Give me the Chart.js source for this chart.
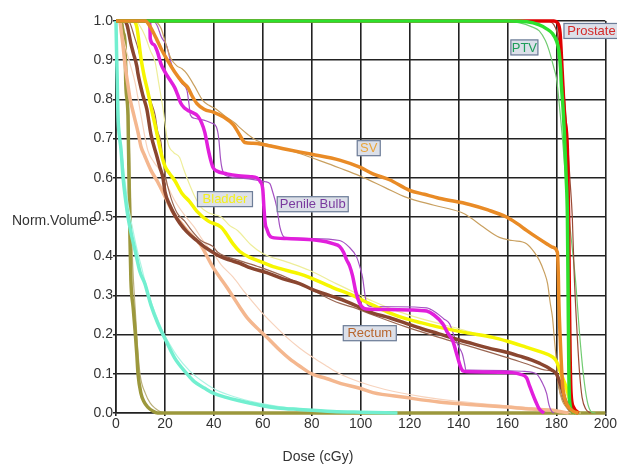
<!DOCTYPE html>
<html><head><meta charset="utf-8">
<script src="https://cdn.jsdelivr.net/npm/chart.js@4.4.1/dist/chart.umd.min.js"></script>
<style>html,body{margin:0;padding:0;background:#fff;}#wrap{position:relative;width:617px;height:469px;}</style>
</head><body><div id="wrap"><canvas id="c" width="617" height="469"></canvas></div>
<script>
// ---- data: [dose (cGy), normalized volume] ----
const xTickLabels = ['0','20','40','60','80','100','120','140','160','180','200'];
const yTickLabels = ['0.0','0.1','0.2','0.3','0.4','0.5','0.6','0.7','0.8','0.9','1.0'];

const prostateA = [[0,1],[179,1],[180.5,0.995],[181.5,0.97],[182.3,0.88],[183.3,0.76],[184.5,0.67],[185,0.5],[185.3,0.3],[185.6,0.15],[186,0.05],[187,0.015],[189,0]];
const prostateB = [[0,1],[176,1],[179,0.99],[181,0.95],[182.5,0.86],[184,0.75],[185.5,0.6],[186.5,0.5],[187.3,0.35],[188.5,0.2],[189.5,0.1],[190.5,0.04],[192,0.01],[194,0]];
const ptvA = [[0,1],[160,1],[168,0.998],[173,0.99],[176,0.98],[178.4,0.968],[180,0.95],[181,0.925],[181.7,0.88],[182,0.84],[182.7,0.78],[183.3,0.71],[184,0.6],[184.5,0.5],[184.8,0.3],[185.1,0.1],[185.4,0.03],[186.5,0.005],[188,0]];
const ptvB = [[0,1],[155,1],[165,0.995],[170,0.985],[173,0.975],[175.5,0.95],[177,0.925],[179,0.88],[180,0.855],[181,0.8],[182.5,0.7],[184,0.58],[185.3,0.49],[186.5,0.42],[187.8,0.34],[189.5,0.2],[191,0.1],[192.6,0.03],[194,0.005],[196,0]];
const svA = [[0,1],[12,1],[14,0.985],[16.5,0.955],[18.4,0.93],[21,0.9],[24,0.87],[27,0.845],[29.4,0.83],[31,0.81],[33,0.79],[36,0.775],[40,0.767],[44,0.755],[48,0.735],[50.5,0.71],[52.7,0.69],[56,0.688],[60,0.685],[70,0.672],[80,0.66],[91.4,0.645],[99.6,0.627],[105,0.61],[111.8,0.595],[120,0.568],[126,0.558],[132,0.548],[144.5,0.532],[152,0.518],[159.6,0.5],[164,0.483],[167.8,0.466],[172,0.448],[176,0.432],[178.4,0.423],[180.4,0.41],[180.8,0.35],[181,0.287],[181.5,0.2],[182.5,0.075],[183.5,0.035],[185,0.015],[187,0.004],[189,0]];
const svB = [[0,1],[15,1],[17,0.995],[18.5,0.98],[20,0.95],[22.4,0.905],[25,0.885],[27,0.878],[29,0.865],[32,0.835],[35.5,0.797],[38,0.785],[41,0.775],[45,0.755],[48.6,0.74],[50.6,0.728],[54,0.71],[57.5,0.695],[65,0.68],[75,0.662],[85,0.64],[91.4,0.625],[99.6,0.605],[110,0.575],[118.7,0.55],[130,0.53],[141,0.512],[144.5,0.5],[150,0.475],[156.7,0.448],[162,0.44],[167.8,0.432],[171,0.41],[173,0.39],[175,0.36],[176.4,0.33],[177.5,0.28],[178.4,0.244],[179.3,0.18],[180,0.134],[181,0.066],[182.5,0.03],[184,0.015],[186,0.003],[187.5,0]];
const bladderA = [[0,1],[7,1],[8.5,0.985],[10.2,0.905],[11.5,0.86],[13,0.82],[14.5,0.775],[16,0.734],[18.4,0.664],[20,0.63],[22,0.61],[24,0.593],[27,0.56],[30,0.54],[33,0.515],[37.6,0.49],[43,0.474],[45,0.458],[48,0.43],[50.6,0.412],[54.7,0.397],[58.8,0.387],[65,0.372],[75,0.355],[79,0.346],[88.6,0.32],[96.7,0.3],[100,0.29],[105,0.275],[112,0.255],[118.8,0.24],[125,0.23],[132,0.219],[143,0.205],[154,0.193],[160,0.183],[167.6,0.168],[173,0.157],[178.4,0.143],[180,0.132],[181,0.117],[182.5,0.09],[184,0.066],[185.5,0.035],[186.7,0.015],[188,0.004],[189,0]];
const bladderB = [[0,1],[8,1],[10,0.985],[11.8,0.963],[14,0.925],[16,0.895],[17.5,0.84],[19.2,0.777],[21.2,0.69],[23.5,0.665],[26,0.652],[27.5,0.625],[29.4,0.593],[32,0.555],[34.7,0.525],[38,0.51],[43,0.5],[46.5,0.478],[49.8,0.465],[55,0.43],[60,0.407],[70,0.385],[79,0.364],[90,0.33],[98.4,0.305],[105,0.285],[115,0.26],[125,0.24],[140,0.215],[155,0.19],[165,0.172],[172,0.16],[178,0.145],[180,0.13],[181.5,0.1],[183,0.07],[184.5,0.04],[186,0.015],[188,0.003],[190,0]];
const penileA = [[0,1],[13.5,1],[13.9,0.98],[14,0.955],[15.5,0.94],[17,0.92],[18.4,0.89],[20.4,0.866],[22,0.85],[24,0.83],[25.3,0.81],[26.5,0.79],[28,0.778],[29.4,0.772],[31,0.767],[33.5,0.757],[35,0.74],[36.3,0.716],[37.6,0.675],[38.7,0.645],[39.6,0.627],[41,0.618],[45.3,0.61],[50,0.605],[55,0.603],[57.5,0.6],[59,0.59],[60,0.57],[60.5,0.52],[61,0.483],[61.6,0.47],[62.5,0.455],[63.7,0.448],[69.8,0.445],[80.4,0.442],[86,0.437],[88.6,0.432],[91.4,0.425],[93,0.41],[94.3,0.39],[95.5,0.375],[96.7,0.35],[98,0.31],[99.6,0.28],[101,0.268],[102.4,0.265],[110,0.264],[120,0.263],[127,0.26],[130,0.25],[133.5,0.228],[135.5,0.205],[137.6,0.185],[139.5,0.145],[141,0.115],[142,0.107],[145,0.105],[162,0.103],[165,0.099],[167.8,0.09],[169,0.07],[170.2,0.05],[171.5,0.03],[173,0.01],[175,0]];
const penileB = [[0,1],[15,1],[16.7,0.99],[18.5,0.96],[20.8,0.935],[22,0.905],[22.9,0.885],[25,0.86],[27,0.84],[29,0.823],[29.8,0.79],[30.4,0.76],[32,0.752],[37,0.745],[39,0.74],[41,0.73],[42,0.7],[42.7,0.65],[43.3,0.625],[44.5,0.607],[50,0.6],[58.8,0.593],[61,0.59],[62.9,0.585],[64,0.565],[65.7,0.525],[67,0.474],[68,0.455],[69,0.448],[80,0.445],[91.4,0.44],[95,0.425],[98.4,0.397],[99.8,0.37],[100.8,0.345],[101.8,0.3],[102.4,0.28],[104,0.272],[115,0.271],[127,0.268],[131,0.255],[134,0.24],[136.3,0.228],[138,0.2],[140,0.17],[141.6,0.15],[142.5,0.125],[143,0.11],[150,0.109],[159.6,0.108],[167,0.106],[171.8,0.1],[174,0.08],[176,0.05],[177,0.02],[178,0.005],[179,0]];
const rectumA = [[0,1],[3.5,1],[4.5,0.99],[6,0.945],[7,0.92],[8.5,0.885],[9,0.865],[11,0.81],[12.6,0.775],[14.3,0.71],[16.7,0.655],[18,0.625],[19.2,0.6],[20,0.565],[22,0.53],[24,0.505],[26,0.485],[29,0.462],[33,0.44],[36.3,0.423],[39.6,0.41],[43,0.398],[46.5,0.39],[50.6,0.382],[55,0.37],[61.6,0.358],[68,0.343],[75,0.33],[80.4,0.315],[88.6,0.297],[94,0.285],[98.4,0.273],[100,0.268],[105,0.255],[111.8,0.243],[118.8,0.228],[125,0.215],[132,0.202],[138,0.19],[145.7,0.177],[152,0.166],[159.6,0.155],[165,0.145],[170,0.135],[173,0.127],[176,0.118],[178,0.11],[180,0.1],[181,0.085],[182.4,0.058],[183.5,0.035],[185,0.015],[187,0.004],[189,0]];
const rectumB = [[0,1],[5,1],[5.7,0.995],[7.5,0.96],[9,0.93],[10.5,0.89],[11.8,0.853],[14,0.8],[16,0.76],[17,0.72],[18.4,0.69],[19,0.655],[20,0.61],[22.4,0.55],[25,0.51],[28,0.49],[31,0.465],[34.7,0.44],[39.6,0.425],[41.6,0.41],[50,0.39],[58.8,0.372],[70,0.345],[80.4,0.313],[90,0.283],[96.7,0.27],[105,0.25],[118.8,0.219],[132,0.193],[145.7,0.168],[159.6,0.142],[168,0.125],[176,0.109],[180,0.1],[181,0.066],[182.5,0.035],[185,0.007],[187,0]];
const peachA = [[0,1],[1.5,1],[2.2,0.97],[3,0.93],[3.7,0.887],[4.8,0.84],[5.7,0.803],[7.3,0.76],[9,0.716],[10.2,0.68],[11.8,0.655],[14.3,0.619],[17,0.59],[20.8,0.542],[23.5,0.51],[26.5,0.485],[29,0.466],[31.5,0.45],[34.3,0.432],[39.6,0.372],[45.3,0.321],[50.6,0.27],[54,0.24],[58.8,0.21],[63,0.185],[67,0.16],[71,0.138],[75,0.12],[80,0.1],[86,0.088],[92,0.075],[99.6,0.063],[105,0.052],[118,0.04],[132,0.028],[146,0.021],[159.6,0.015],[170,0.01],[178.4,0.007],[182,0.003],[185,0]];
const peachB = [[0,1],[1.5,1],[2.5,0.97],[4,0.93],[6,0.885],[7.8,0.843],[10.2,0.76],[13,0.67],[15.5,0.64],[18.4,0.615],[21,0.58],[24,0.542],[28,0.505],[32,0.474],[35,0.445],[37.6,0.423],[40,0.405],[43,0.378],[47.8,0.347],[53,0.305],[58.8,0.262],[64,0.228],[69.8,0.193],[75,0.166],[80.4,0.142],[86,0.12],[91.4,0.1],[99.6,0.079],[110,0.06],[125,0.042],[140,0.03],[160,0.018],[175,0.01],[182,0.004],[186,0]];
const cyanA = [[0,1],[0.2,0.93],[0.5,0.85],[0.8,0.76],[1.5,0.7],[2,0.675],[2.9,0.6],[4,0.54],[4.9,0.5],[6.3,0.455],[7.8,0.415],[9.8,0.36],[11.8,0.33],[14.3,0.275],[17,0.23],[20,0.19],[24,0.14],[29,0.1],[32,0.08],[36.3,0.063],[40,0.05],[45,0.04],[50,0.032],[58.8,0.02],[66,0.013],[75,0.009],[88.6,0.004],[100,0.002],[115,0]];
const cyanB = [[0,1],[0.3,0.9],[0.8,0.8],[1.5,0.72],[2.5,0.66],[3.5,0.6],[5,0.53],[6.5,0.48],[8.5,0.42],[10.5,0.37],[13,0.31],[16,0.255],[19,0.21],[22,0.175],[25,0.145],[30,0.108],[35,0.082],[40,0.062],[48,0.042],[58,0.026],[70,0.014],[85,0.006],[100,0.002],[115,0]];
const oliveA = [[0,1],[2,1],[3,0.97],[3.7,0.945],[4,0.84],[4.9,0.76],[5.3,0.6],[5.7,0.45],[6.1,0.338],[7,0.27],[7.8,0.21],[8.5,0.15],[9,0.1],[10.2,0.05],[11.5,0.028],[13,0.015],[15,0.005],[17,0],[200,0]];
const oliveB = [[0,1],[2.5,1],[3.5,0.96],[4.3,0.9],[5,0.8],[5.6,0.65],[6.2,0.5],[6.8,0.38],[7.8,0.27],[8.8,0.17],[9.8,0.1],[12,0.05],[14,0.025],[16,0.012],[18,0.004],[20,0]];

// ---- labels ----
const labelBoxes = [
  {text:'Prostate', dose:182.9, vol:0.995, color:'#d42a2a', w:56},
  {text:'PTV', dose:161.2, vol:0.953, color:'#1f9e5a', w:28},
  {text:'SV', dose:98.4, vol:0.696, color:'#e9a53c', w:24},
  {text:'Bladder', dose:33.1, vol:0.566, color:'#f4f01a', w:56},
  {text:'Penile Bulb', dose:65.7, vol:0.553, color:'#7a3a9e', w:72},
  {text:'Rectum', dose:92.7, vol:0.224, color:'#b8662e', w:54}
];

const FONT = '"Liberation Sans", Arial, sans-serif';
const toPts = a => a.map(p => ({x:p[0], y:p[1]}));
function ds(arr, color, width){
  return {data: toPts(arr), borderColor: color, borderWidth: width, showLine: true,
          pointRadius: 0, fill: false, tension: 0, cubicInterpolationMode: 'monotone', clip: 8};
}
// first = drawn on top
const datasets = [
  ds(svA, '#e98b26', 3.5),
  ds(ptvA, '#2ee02e', 3.5),
  ds(prostateA, '#e00000', 3.5),
  ds(penileA, '#e11fdc', 3.5),
  ds(bladderA, '#f6f600', 3.5),
  ds(rectumA, '#8a4630', 3.5),
  ds(prostateB, '#9a4a35', 1.2),
  ds(ptvB, '#72cc72', 1.2),
  ds(svB, '#c9a060', 1.2),
  ds(penileB, '#a451c2', 1.2),
  ds(bladderB, '#eeee9a', 1.2),
  ds(rectumB, '#9a6652', 1.2),
  ds(peachA, '#f4b78f', 3.5),
  ds(peachB, '#f7d3bd', 1.2),
  ds(cyanA, '#72efd0', 3.5),
  ds(cyanB, '#aef4e4', 1.2),
  ds(oliveA, '#9c983c', 3.5),
  ds(oliveB, '#bab07c', 1.2)
];

const textPlugin = {
  id: 'extraText',
  afterDatasetsDraw(chart){
    const {ctx, scales:{x, y}} = chart;
    ctx.save();
    labelBoxes.forEach(b => {
      const px = x.getPixelForValue(b.dose), py = y.getPixelForValue(b.vol);
      const h = 16;
      ctx.fillStyle = '#dce0e9';
      ctx.fillRect(px, py, b.w, h);
      ctx.strokeStyle = '#6d7d98';
      ctx.lineWidth = 1.2;
      ctx.strokeRect(px + 0.5, py + 0.5, b.w - 1, h - 1);
      ctx.font = '13px ' + FONT;
      ctx.fillStyle = b.color;
      ctx.textBaseline = 'middle';
      ctx.textAlign = 'center';
      ctx.fillText(b.text, px + b.w / 2, py + h / 2 + 0.5);
    });
    ctx.fillStyle = '#333';
    ctx.font = '14px ' + FONT;
    ctx.textBaseline = 'middle';
    ctx.textAlign = 'left';
    ctx.fillText('Norm.Volume', 12, 221);
    ctx.textAlign = 'center';
    ctx.fillText('Dose (cGy)', 318, 457);
    ctx.restore();
  }
};

new Chart(document.getElementById('c'), {
  type: 'scatter',
  data: {datasets},
  plugins: [textPlugin],
  options: {
    responsive: false, animation: false,
    layout: {padding: {top: 21, right: 11, left: 0, bottom: 0}},
    plugins: {legend: {display: false}, tooltip: {enabled: false}},
    scales: {
      x: {type: 'linear', min: 0, max: 200,
          ticks: {stepSize: 20, padding: 0, color: '#333', maxRotation: 0,
                  font: {size: 14, family: FONT},
                  callback: (v) => xTickLabels[Math.round(v / 20)]},
          grid: {color: '#222', lineWidth: 1.6, tickLength: 3},
          border: {color: '#222', width: 1.6},
          afterFit(s){ s.height = 56; }},
      y: {type: 'linear', min: 0, max: 1,
          ticks: {stepSize: 0.1, padding: 0, color: '#333',
                  font: {size: 14, family: FONT},
                  callback: (v) => yTickLabels[Math.round(v * 10)]},
          grid: {color: '#222', lineWidth: 1.6, tickLength: 3},
          border: {color: '#222', width: 1.6},
          afterFit(s){ s.width = 116; }}
    }
  }
});
</script></body></html>
